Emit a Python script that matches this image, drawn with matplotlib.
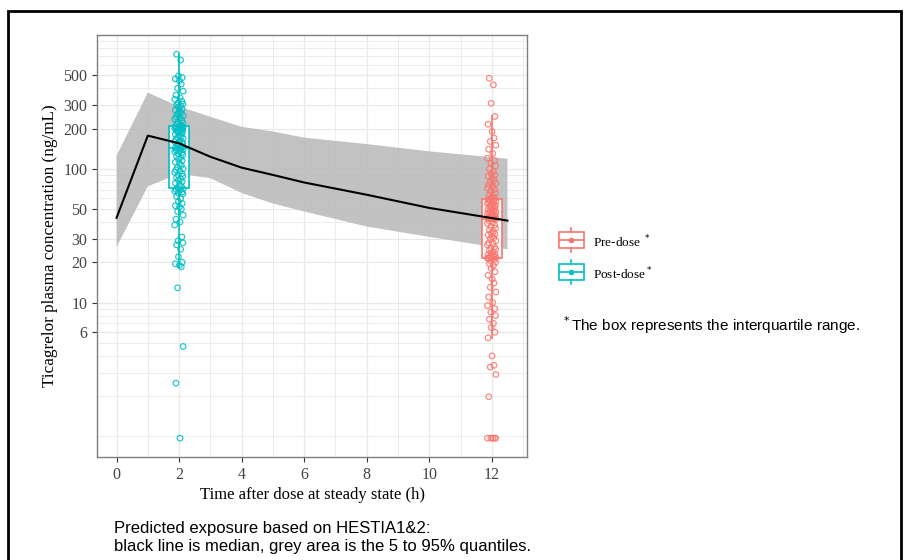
"""
Ticagrelor plasma concentration: observed pre/post-dose vs predicted exposure.
"""

import numpy as np
import matplotlib.pyplot as plt
from matplotlib.patches import Rectangle
from matplotlib.lines import Line2D
from matplotlib.legend_handler import HandlerBase

# predicted exposure (HESTIA1&2)
pred_time = [0, 1, 2, 3, 4, 5, 6, 8, 10, 12.5]
pred_median = [43, 177, 155, 123, 102, 90, 79, 64, 51, 41]
pred_upper = [125, 371, 292, 245, 206, 190, 171, 153, 135, 119]
pred_lower = [26, 74, 92, 85, 66, 55, 48, 37, 31, 25]

# observed concentrations (ng/mL)
post_time = 2
post_dose = [
    718, 650, 495, 480, 470, 455, 430, 400, 380, 355, 340, 330, 320, 310, 305,
    300, 295, 290, 280, 275, 270, 262, 255, 250, 245, 240, 235, 230, 225, 220,
    215, 212, 260,
    208, 207, 206, 205, 204, 203, 202, 201, 200, 198, 196, 194, 192, 190, 187,
    184, 181, 178, 175, 172, 169, 166, 163, 160, 158, 156, 154, 152, 150, 148,
    146, 144,
    142, 141, 140, 139, 138, 136, 134, 132, 130, 127, 124, 121, 118, 115, 112,
    109, 106, 103, 100, 98, 96, 94, 92, 90, 88, 86, 84, 82, 80, 78, 76, 74,
    72, 71, 70, 69, 68, 67, 66, 65, 62, 60, 57, 55, 53, 52, 50, 48, 45, 42,
    40, 38, 31, 29, 28, 27, 25, 22, 20, 19.5, 19, 18.5, 12.9, 4.7, 2.5, 0.97,
]
pre_time = 12
pre_dose = [
    475, 424, 309, 246, 215, 190, 170, 160, 150, 140, 130, 120, 115, 110, 105,
    100, 95, 92, 90, 88, 85, 82, 80, 78, 76, 74, 72, 70, 68, 66, 64, 62, 61, 60,
    59, 58.5, 58, 57.5, 57, 56, 55.5, 55, 54, 53.5, 53, 52, 51.5, 51, 50, 49.5,
    49, 48.5, 48, 47.5, 47, 46.5, 46, 45.5, 45, 44.5, 44, 43.5, 43, 42.8, 42.6,
    42.5, 42.4, 42.3,
    42, 41, 40, 39, 38, 37, 36, 35, 34, 33, 32.5, 32, 31, 30.5, 30, 29, 28,
    27.5, 27, 26, 25.5, 25, 24.5, 24, 23.5, 23, 22.8, 22.5, 22.2, 22, 21.8,
    21.6, 21.5, 21.4,
    21, 20.5, 20, 19.5, 19, 18, 17, 16, 15, 14, 13, 12, 11, 10, 9.5, 9, 8.5,
    8, 7.5, 7, 6.5, 6, 5.45, 4.0, 3.4, 3.3, 2.9, 1.98, 0.97, 0.97, 0.97, 0.97,
    0.97,
]

y_ticks = [6, 10, 20, 30, 50, 100, 200, 300, 500]
x_ticks = [0, 2, 4, 6, 8, 10, 12]

PRE_COL = '#F8766D'
POST_COL = '#00BFC4'
SERIF = 'Liberation Serif'
SANS = 'Liberation Sans'


def log_box_stats(values):
    # quartiles / whiskers computed on the log scale, like ggplot with scale_y_log10
    lv = np.log10(np.asarray(values, dtype=float))
    q1, med, q3 = np.percentile(lv, [25, 50, 75])
    iqr = q3 - q1
    lo = lv[lv >= q1 - 1.5 * iqr].min()
    hi = lv[lv <= q3 + 1.5 * iqr].max()
    return dict(q1=10 ** q1, med=10 ** med, q3=10 ** q3,
                whislo=10 ** lo, whishi=10 ** hi, fliers=[])


class BoxHandler(HandlerBase):
    def create_artists(self, legend, orig, xd, yd, w, h, fontsize, trans):
        c = orig.get_color()
        cx = xd + w / 2
        box = Rectangle((xd, yd - 0.15 * h), w, 1.3 * h, facecolor='white',
                        edgecolor=c, linewidth=1.2, transform=trans)
        med = Line2D([xd, xd + w], [yd + h / 2] * 2, color=c, lw=1.2, transform=trans)
        w1 = Line2D([cx, cx], [yd + 1.15 * h, yd + 1.5 * h], color=c, lw=1.2, transform=trans)
        w2 = Line2D([cx, cx], [yd - 0.15 * h, yd - 0.5 * h], color=c, lw=1.2, transform=trans)
        dot = Line2D([cx], [yd + h / 2], marker='o', ms=3, color=c, transform=trans)
        return [box, med, w1, w2, dot]


fig = plt.figure(figsize=(9.09, 5.60), dpi=100)
ax = fig.add_axes([97 / 909, 1 - 457 / 560, 430 / 909, 422 / 560])

# grid
ax.set_yscale('log')
ax.set_xlim(-0.625, 13.125)
ax.set_ylim(10 ** -0.154, 1000)
ax.set_xticks(x_ticks)
ax.set_xticks([1, 3, 5, 7, 9, 11, 13], minor=True)
ax.set_yticks(y_ticks)
ax.set_yticklabels([str(v) for v in y_ticks])
minor_y = [m * 10 ** k for k in range(0, 3) for m in range(1, 10)
           if m * 10 ** k not in y_ticks]
ax.set_yticks(minor_y, minor=True)
ax.set_yticklabels([], minor=True)
ax.grid(True, which='major', color='#e8e8e8', lw=0.9)
ax.grid(True, which='minor', color='#ececec', lw=0.7)
ax.set_axisbelow(True)
ax.tick_params(which='minor', length=0)
ax.tick_params(which='major', length=3.5, width=0.8, color='#333333',
               labelsize=11.5, labelcolor='#444444')
for lab in ax.get_xticklabels() + ax.get_yticklabels():
    lab.set_family(SERIF)
for sp in ax.spines.values():
    sp.set_color('#7f7f7f')
    sp.set_linewidth(1.0)

# predicted exposure band
ax.fill_between(pred_time, pred_lower, pred_upper, facecolor='#b8b8b8',
                alpha=0.85, lw=0, zorder=1)

# boxes
for t, vals, col in [(post_time, post_dose, POST_COL), (pre_time, pre_dose, PRE_COL)]:
    st = log_box_stats(vals)
    ax.bxp([st], positions=[t], widths=0.64, showfliers=False, patch_artist=True,
           boxprops=dict(facecolor='white', edgecolor=col, lw=1.2),
           medianprops=dict(color=col, lw=1.2),
           whiskerprops=dict(color=col, lw=1.2),
           capprops=dict(lw=0), manage_ticks=False, zorder=2)
    offs = np.tile([-0.08, 0.05, -0.02, 0.1, -0.12, 0.01, 0.07, -0.05, 0.13, -0.1,
                    0.03, -0.14, 0.09, -0.03, 0.12], len(vals) // 15 + 1)[:len(vals)]
    ax.scatter(t + offs, vals, s=16, facecolors='none', edgecolors=col,
               linewidths=0.9, alpha=0.85, zorder=3)

ax.plot(pred_time, pred_median, color='black', lw=1.5, zorder=4)

ax.set_xlabel('Time after dose at steady state (h)', family=SERIF, fontsize=12,
              labelpad=3)
ax.set_ylabel('Ticagrelor plasma concentration (ng/mL)', family=SERIF,
              fontsize=12.3, labelpad=4)

# legend
handles = [Line2D([], [], color=PRE_COL), Line2D([], [], color=POST_COL)]
fig.legend(handles, ['Pre-dose $^*$', 'Post-dose$^*$'],
           handler_map={Line2D: BoxHandler()}, loc='center left',
           bbox_to_anchor=(547 / 909, 1 - 258 / 560), frameon=False,
           prop={'family': SERIF, 'size': 9.5}, handlelength=1.9,
           handleheight=1.0, labelspacing=1.15, handletextpad=0.7)

fig.text(561 / 909, 1 - 325 / 560, '$^*$The box represents the interquartile range.',
         family=SANS, fontsize=11, va='center', ha='left')

fig.text(114 / 909, 1 - 528 / 560, 'Predicted exposure based on HESTIA1&2:',
         family=SANS, fontsize=12, va='center', ha='left')
fig.text(114 / 909, 1 - 547 / 560,
         'black line is median, grey area is the 5 to 95% quantiles.',
         family=SANS, fontsize=12, va='center', ha='left')

# outer frame
fig.add_artist(Rectangle((8 / 909, -0.05), 893 / 909, 0.05 + 1 - 11 / 560,
                         transform=fig.transFigure, fill=False,
                         edgecolor='black', lw=2))

fig.savefig('out.png', dpi=100)
